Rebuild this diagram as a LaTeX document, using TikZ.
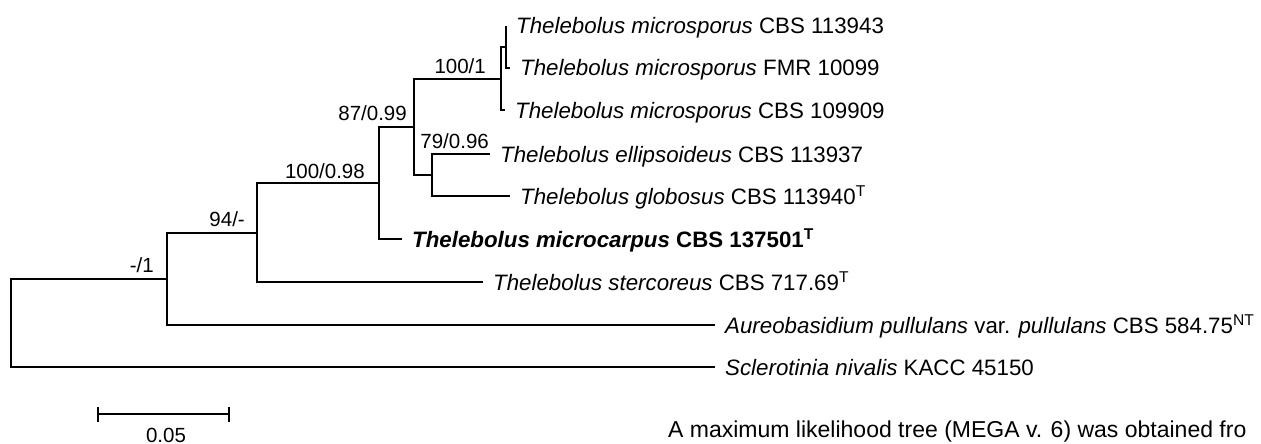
\documentclass[tikz,border=0pt]{standalone}
\usepackage{fontspec}
\setmainfont{Liberation Sans}

\begin{document}
\begin{tikzpicture}[
    x=1pt, y=-1pt,
    branch/.style={line width=1.8pt},
    leaf/.style={anchor=base west, inner sep=0pt, xshift=10pt, yshift=-8pt, font=\fontsize{22.3}{26}\selectfont},
    supp/.style={anchor=base east, inner sep=0pt, font=\fontsize{20.5}{24}\selectfont}
]
\useasboundingbox (0,0) rectangle (1261,444);
\coordinate (R) at (11,323);
\coordinate (G) at (167,279);
\coordinate (F) at (257,233);
\coordinate (E) at (379,183);
\coordinate (D) at (414,127);
\coordinate (C) at (432,175);
\coordinate (B) at (501,79);
\coordinate (A) at (506,47);
\coordinate (t1) at (506,26);
\coordinate (t2) at (510,68);
\coordinate (t3) at (505,110);
\coordinate (t4) at (490,154);
\coordinate (t5) at (510,196);
\coordinate (t6) at (402,239);
\coordinate (t7) at (483,282);
\coordinate (t8) at (715,325);
\coordinate (t9) at (715,367);
\draw[branch] (R) |- (G);
\draw[branch] (R) |- (t9);
\draw[branch] (G) |- (F);
\draw[branch] (G) |- (t8);
\draw[branch] (F) |- (E);
\draw[branch] (F) |- (t7);
\draw[branch] (E) |- (D);
\draw[branch] (E) |- (t6);
\draw[branch] (D) |- (B);
\draw[branch] (D) |- (C);
\draw[branch] (C) |- (t4);
\draw[branch] (C) |- (t5);
\draw[branch] (B) |- (A);
\draw[branch] (B) |- (t3);
\draw[branch] (A) |- (t1);
\draw[branch] (A) |- (t2);
\node[leaf] (l1) at (t1) {\textit{Thelebolus microsporus} CBS 113943};
\node[leaf] (l2) at (t2) {\textit{Thelebolus microsporus} FMR 10099};
\node[leaf] (l3) at (t3) {\textit{Thelebolus microsporus} CBS 109909};
\node[leaf] (l4) at (t4) {\textit{Thelebolus ellipsoideus} CBS 113937};
\node[leaf] (l5) at (t5) {\textit{Thelebolus globosus} CBS 113940\textsuperscript{T}};
\node[leaf] (l6) at (t6) {\textbf{\textit{Thelebolus microcarpus} CBS 137501\textsuperscript{T}}};
\node[leaf] (l7) at (t7) {\textit{Thelebolus stercoreus} CBS 717.69\textsuperscript{T}};
\node[leaf] (l8) at (t8) {\textit{Aureobasidium pullulans} var. \textit{pullulans} CBS 584.75\textsuperscript{NT}};
\node[leaf] (l9) at (t9) {\textit{Sclerotinia nivalis} KACC 45150};
\node[supp] (sG) at (154,272) {-/1};
\node[supp] (sF) at (245,226) {94/-};
\node[supp] (sE) at (365,178) {100/0.98};
\node[supp] (sD) at (407,121) {87/0.99};
\node[supp] (sB) at (486,74) {100/1};
\node[supp] (sC) at (489,148) {79/0.96};
\coordinate (bar1) at (98,414);
\coordinate (bar2) at (229,414);
\draw[branch] (bar1) -- (bar2);
\draw[branch] ([yshift=7pt]bar1) -- ([yshift=-8pt]bar1);
\draw[branch] ([yshift=7pt]bar2) -- ([yshift=-8pt]bar2);
\node[supp, anchor=base] (scale) at (166,442) {0.05};
\node[anchor=base west, inner sep=0pt, font=\fontsize{23}{27}\selectfont] (note) at (668,437) {A maximum likelihood tree (MEGA v. 6) was obtained fro};
\end{tikzpicture}
\end{document}
